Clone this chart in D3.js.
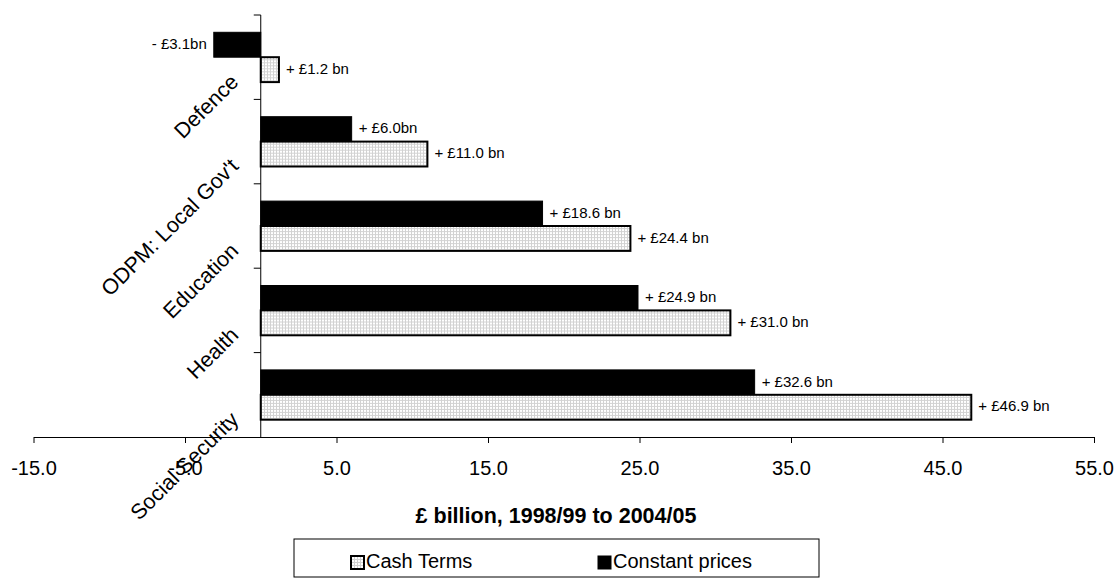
<html>
<head>
  <title>Spending change by department</title>
  <script src="https://d3js.org/d3.v7.min.js"></script>
  <style>
    body { margin: 0; background: white; }
    text { font-family: "Liberation Sans", Arial, sans-serif; fill: #000; }
  </style>
</head>
<body>
<script>
  // data
  const categories = ["Defence", "ODPM: Local Gov't", "Education", "Health", "Social Security"];
  const cashTerms = [1.2, 11.0, 24.4, 31.0, 46.9];
  const constantPrices = [-3.1, 6.0, 18.6, 24.9, 32.6];
  const cashLabels = ["+ £1.2 bn", "+ £11.0 bn", "+ £24.4 bn", "+ £31.0 bn", "+ £46.9 bn"];
  const constantLabels = ["- £3.1bn", "+ £6.0bn", "+ £18.6 bn", "+ £24.9 bn", "+ £32.6 bn"];
  const xTicks = [-15, -5, 5, 15, 25, 35, 45, 55];
  const series = ["Constant prices", "Cash Terms"];
  const legendItems = ["Cash Terms", "Constant prices"];

  const width = 1120, height = 579;
  const plot = { left: 33.5, right: 1094, top: 15, bottom: 437 };

  const svg = d3.select("body").append("svg")
    .attr("width", width)
    .attr("height", height);

  // dotted grey fill used for the cash bars
  const pat = svg.append("defs").append("pattern")
    .attr("id", "dots")
    .attr("patternUnits", "userSpaceOnUse")
    .attr("width", 3).attr("height", 3);
  pat.append("rect").attr("width", 3).attr("height", 3).attr("fill", "#fff");
  pat.append("rect").attr("width", 3).attr("height", 1).attr("fill", "#d2d2d2");
  pat.append("rect").attr("width", 1).attr("height", 3).attr("fill", "#d2d2d2");

  const x = d3.scaleLinear().domain([-15, 55]).range([plot.left, plot.right]);
  const y = d3.scaleBand().domain(categories)
    .range([plot.top, plot.bottom])
    .paddingInner(0.41).paddingOuter(0.205);
  const ySub = d3.scaleBand().domain(series).range([0, y.bandwidth()]);

  const rows = categories.map((c, i) => ({
    cat: c,
    vals: [
      { s: "Constant prices", v: constantPrices[i], label: constantLabels[i] },
      { s: "Cash Terms", v: cashTerms[i], label: cashLabels[i] }
    ]
  }));

  // x axis
  svg.append("g")
    .attr("transform", `translate(0,${plot.bottom})`)
    .call(d3.axisBottom(x).tickValues(xTicks).tickSize(6).tickSizeOuter(0)
      .tickPadding(18).tickFormat(d => d.toFixed(1)))
    .call(g => g.selectAll("text").attr("font-size", 20).attr("font-family", null))
    .call(g => g.selectAll("line,path").attr("stroke", "#000"));

  // bars
  const groups = svg.selectAll("g.row").data(rows).join("g")
    .attr("class", "row")
    .attr("transform", d => `translate(0,${y(d.cat)})`);

  groups.selectAll("rect").data(d => d.vals).join("rect")
    .attr("x", d => x(Math.min(0, d.v)))
    .attr("y", d => ySub(d.s))
    .attr("width", d => Math.abs(x(d.v) - x(0)))
    .attr("height", ySub.bandwidth())
    .attr("fill", d => d.s === "Cash Terms" ? "url(#dots)" : "#000")
    .attr("stroke", "#000")
    .attr("stroke-width", d => d.s === "Cash Terms" ? 2 : 1);

  groups.selectAll("text").data(d => d.vals).join("text")
    .attr("x", d => d.v < 0 ? x(d.v) - 7 : x(d.v) + 7)
    .attr("y", d => ySub(d.s) + ySub.bandwidth() / 2 - 1)
    .attr("dy", "0.35em")
    .attr("text-anchor", d => d.v < 0 ? "end" : "start")
    .attr("font-size", 15)
    .text(d => d.label);

  // y axis line and category ticks
  const step = y.step();
  const yAxis = svg.append("g");
  yAxis.append("line")
    .attr("x1", x(0)).attr("x2", x(0))
    .attr("y1", plot.top).attr("y2", plot.bottom)
    .attr("stroke", "#000");
  yAxis.selectAll("line.tick").data(d3.range(categories.length)).join("line")
    .attr("class", "tick")
    .attr("x1", x(0) - 7).attr("x2", x(0))
    .attr("y1", i => plot.top + i * step).attr("y2", i => plot.top + i * step)
    .attr("stroke", "#000");

  yAxis.selectAll("text").data(categories).join("text")
    .attr("text-anchor", "end")
    .attr("font-size", 21.5)
    .attr("transform", d => `translate(${x(0) - 21},${y(d) + y.bandwidth() / 2 + 26}) rotate(-45)`)
    .text(d => d);

  // axis title
  svg.append("text")
    .attr("x", 556).attr("y", 523)
    .attr("text-anchor", "middle")
    .attr("font-size", 21.5)
    .attr("font-weight", "bold")
    .text("£ billion, 1998/99 to 2004/05");

  // legend
  const leg = svg.append("g").attr("transform", "translate(294,539)");
  leg.append("rect")
    .attr("width", 525).attr("height", 38)
    .attr("fill", "#fff").attr("stroke", "#000");
  const legX = d3.scalePoint().domain(legendItems).range([57, 304]);
  const li = leg.selectAll("g.item").data(legendItems).join("g")
    .attr("class", "item")
    .attr("transform", d => `translate(${legX(d)},17)`);
  li.append("rect")
    .attr("width", 13).attr("height", 13)
    .attr("fill", d => d === "Cash Terms" ? "url(#dots)" : "#000")
    .attr("stroke", "#000")
    .attr("stroke-width", d => d === "Cash Terms" ? 2 : 1);
  li.append("text")
    .attr("x", 15).attr("y", 12)
    .attr("font-size", 20)
    .text(d => d);
</script>
</body>
</html>
